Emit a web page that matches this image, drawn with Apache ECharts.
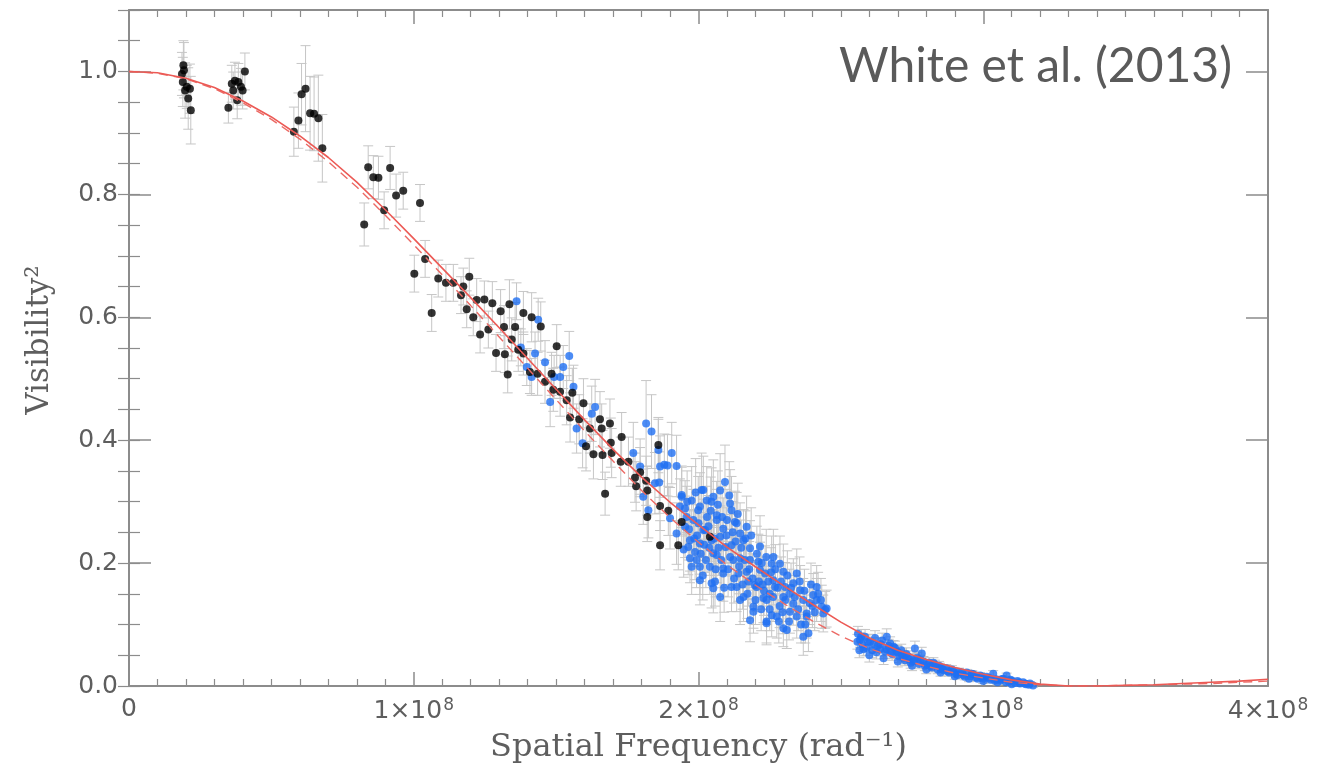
<!DOCTYPE html>
<html>
<head>
<meta charset="utf-8">
<script src="https://cdn.jsdelivr.net/npm/echarts@6/dist/echarts.min.js"></script>
<style>
html,body{margin:0;padding:0;background:#fff;}
#chart{width:1321px;height:782px;}
</style>
</head>
<body>
<div id="chart"></div>
<script>
// x values are in units of 1e8 rad^-1
const xTickLabels = ['0', '1×10^8', '2×10^8', '3×10^8', '4×10^8'];
const yTickLabels = ['0.0', '0.2', '0.4', '0.6', '0.8', '1.0'];

// model curves
const modelX = [0,0.1,0.2,0.3,0.4,0.5,0.6,0.7,0.8,0.9,1.0,1.1,1.2,1.3,1.4,1.5,1.6,1.7,1.8,1.9,2.0,2.1,2.2,2.3,2.4,2.5,2.6,2.7,2.8,2.9,3.0,3.1,3.2,3.3,3.4,3.5,3.6,3.7,3.8,3.9,4.0];
const modelSolid = [1.000,0.998,0.989,0.974,0.952,0.926,0.895,0.860,0.820,0.775,0.728,0.680,0.632,0.583,0.533,0.483,0.433,0.385,0.340,0.299,0.262,0.226,0.194,0.163,0.133,0.104,0.078,0.058,0.043,0.030,0.019,0.010,0.003,0.000,0.000,0.001,0.002,0.004,0.006,0.008,0.011];
const modelDashed = [1.000,0.997,0.988,0.972,0.949,0.922,0.890,0.853,0.812,0.766,0.718,0.669,0.619,0.568,0.517,0.466,0.415,0.366,0.318,0.274,0.234,0.197,0.164,0.134,0.106,0.081,0.061,0.045,0.032,0.021,0.013,0.006,0.002,0.000,0.000,0.001,0.002,0.003,0.004,0.006,0.008];

// black points: [x, V^2, error]
const blackPoints = [
[0.191,1.010,0.040],[0.193,1.002,0.045],[0.186,0.996,0.035],[0.189,0.983,0.040],[0.203,0.975,0.035],[0.214,0.972,0.040],[0.197,0.969,0.045],[0.208,0.956,0.050],[0.217,0.937,0.055],
[0.349,0.941,0.025],[0.361,0.980,0.030],[0.372,0.985,0.030],[0.384,0.983,0.030],[0.366,0.969,0.030],[0.380,0.953,0.030],[0.399,0.969,0.030],[0.407,1.000,0.030],[0.393,0.975,0.030],
[0.579,0.902,0.040],[0.595,0.920,0.045],[0.606,0.963,0.050],[0.620,0.972,0.070],[0.636,0.932,0.060],[0.650,0.931,0.060],[0.665,0.924,0.070],[0.679,0.875,0.055],
[0.826,0.751,0.035],[0.840,0.844,0.035],[0.858,0.828,0.035],[0.876,0.827,0.035],[0.917,0.843,0.035],[0.896,0.774,0.030],[0.938,0.798,0.035],[0.963,0.806,0.030],[1.022,0.786,0.030],[1.040,0.695,0.030],
[1.002,0.671,0.030],[1.063,0.607,0.030],[1.086,0.663,0.030],[1.113,0.656,0.030],[1.139,0.656,0.030],[1.195,0.666,0.030],[1.174,0.650,0.030],[1.166,0.636,0.030],[1.186,0.613,0.030],[1.221,0.628,0.035],
[1.248,0.629,0.030],[1.209,0.600,0.030],[1.233,0.572,0.030],[1.262,0.580,0.030],[1.276,0.623,0.035],[1.305,0.610,0.035],[1.336,0.621,0.040],[1.317,0.584,0.035],[1.356,0.584,0.040],[1.385,0.607,0.035],
[1.414,0.600,0.040],[1.446,0.585,0.040],[1.289,0.542,0.030],[1.320,0.540,0.030],[1.344,0.564,0.035],[1.367,0.547,0.035],[1.385,0.541,0.035],[1.330,0.507,0.030],[1.408,0.511,0.035],[1.502,0.553,0.035],
[1.435,0.508,0.035],[1.461,0.495,0.035],[1.484,0.508,0.035],[1.490,0.482,0.035],[1.514,0.479,0.040],[1.537,0.465,0.040],[1.557,0.477,0.040],[1.596,0.460,0.040],[1.549,0.437,0.040],[1.581,0.434,0.040],
[1.654,0.434,0.045],[1.689,0.427,0.040],[1.619,0.419,0.040],[1.660,0.419,0.040],[1.605,0.390,0.040],[1.631,0.377,0.040],[1.663,0.376,0.040],[1.692,0.396,0.040],[1.695,0.379,0.040],[1.730,0.405,0.040],
[1.727,0.365,0.040],[1.754,0.365,0.040],[1.859,0.392,0.045],[1.795,0.348,0.040],[1.777,0.339,0.040],[1.816,0.334,0.040],[1.781,0.325,0.040],[1.672,0.313,0.035],[1.820,0.318,0.040],[1.820,0.275,0.040],
[1.865,0.293,0.040],[1.894,0.285,0.040],[1.865,0.229,0.040],[1.929,0.229,0.040],[1.941,0.267,0.040],[2.040,0.243,0.040]
];

// blue points, sparse part among the black points
const blueSparse = [
[1.361,0.626,0.030],[1.437,0.596,0.035],[1.376,0.551,0.030],[1.397,0.519,0.030],[1.426,0.541,0.035],[1.414,0.503,0.030],[1.461,0.527,0.035],[1.479,0.462,0.040],[1.493,0.503,0.035],[1.514,0.503,0.035],
[1.525,0.519,0.035],[1.546,0.537,0.040],[1.561,0.487,0.035],[1.572,0.419,0.040],[1.593,0.395,0.040],[1.625,0.443,0.045],[1.637,0.454,0.045],[1.771,0.379,0.050],[1.795,0.357,0.045],[1.806,0.308,0.045],
[1.816,0.427,0.070],[1.835,0.414,0.060],[1.824,0.286,0.045],[1.847,0.330,0.050],[1.862,0.331,0.050],[1.859,0.384,0.050],[1.865,0.357,0.050],[1.880,0.360,0.050],[1.891,0.359,0.050],[1.900,0.273,0.050],
[1.906,0.379,0.050],[1.923,0.358,0.050],[1.923,0.248,0.050]
];

// blue points, dense cluster around 2e8
const blueCluster = [
[1.935,0.292,0.045],[1.941,0.308,0.050],[1.941,0.311,0.045],[1.953,0.259,0.050],[1.953,0.289,0.045],[1.958,0.275,0.050],[1.964,0.226,0.045],[1.970,0.208,0.040],[1.970,0.237,0.050],[1.976,0.194,0.045],
[1.976,0.302,0.055],[1.982,0.270,0.050],[1.988,0.218,0.045],[1.999,0.286,0.055],[2.005,0.172,0.040],[2.005,0.194,0.045],[2.005,0.232,0.050],[2.005,0.292,0.055],[2.011,0.319,0.060],[2.017,0.254,0.050],
[2.017,0.319,0.055],[2.023,0.254,0.045],[2.029,0.302,0.055],[2.040,0.194,0.045],[2.046,0.167,0.040],[2.046,0.237,0.050],[2.046,0.300,0.055],[2.052,0.159,0.040],[2.052,0.216,0.045],[2.052,0.308,0.060],
[2.064,0.213,0.045],[2.064,0.270,0.050],[2.064,0.278,0.055],[2.076,0.145,0.040],[2.076,0.243,0.050],[2.076,0.318,0.060],[2.087,0.183,0.045],[2.087,0.191,0.045],[2.087,0.256,0.050],[2.093,0.332,0.060],
[2.111,0.210,0.045],[2.111,0.297,0.055],[2.116,0.161,0.040],[2.116,0.229,0.050],[2.116,0.286,0.055],[2.128,0.267,0.050],[2.134,0.161,0.040],[2.134,0.265,0.050],[2.140,0.183,0.045],[2.146,0.140,0.040],
[2.146,0.208,0.045],[2.146,0.248,0.050],[2.158,0.145,0.040],[2.158,0.237,0.050],[2.169,0.186,0.045],[2.169,0.259,0.050],[2.181,0.107,0.035],[2.181,0.205,0.045],[2.181,0.224,0.045],[2.193,0.121,0.035],
[2.193,0.129,0.035],[2.198,0.164,0.040],[2.204,0.161,0.040],[2.210,0.202,0.045],[2.216,0.189,0.045],[2.216,0.227,0.050],[2.228,0.143,0.040],[2.234,0.183,0.045],[2.239,0.102,0.035],[2.239,0.105,0.035],
[2.239,0.140,0.040],[2.257,0.115,0.035],[2.257,0.199,0.045],[2.263,0.172,0.040],[2.263,0.210,0.045],[2.269,0.161,0.040],[2.275,0.113,0.035],[2.286,0.199,0.045],[2.298,0.094,0.030],[2.298,0.145,0.040],
[2.298,0.186,0.045],[2.304,0.161,0.040],[2.310,0.091,0.030],[2.321,0.121,0.035],[2.333,0.134,0.035],[2.333,0.167,0.040],[2.345,0.113,0.035],[2.345,0.183,0.040],[2.357,0.156,0.040],[2.368,0.080,0.030],
[2.368,0.140,0.035],[2.380,0.113,0.035],[2.380,0.118,0.035],[2.386,0.086,0.030],[2.403,0.148,0.035],[2.415,0.140,0.035],[2.415,0.161,0.035],[2.433,0.129,0.035],[2.445,0.124,0.030],[2.450,0.126,0.030],
[1.995,0.245,0.050],[2.030,0.275,0.050],[2.095,0.226,0.045],[2.120,0.250,0.050],[2.175,0.170,0.040],[2.225,0.165,0.040],[2.250,0.150,0.040],[2.285,0.130,0.035],[2.320,0.150,0.040],[2.360,0.100,0.030],
[2.400,0.130,0.035],[2.430,0.140,0.035],[2.100,0.270,0.050],[2.060,0.190,0.045],[1.990,0.315,0.055],
[1.948,0.222,0.045],[1.960,0.300,0.050],[1.967,0.255,0.050],[1.985,0.240,0.045],[1.993,0.205,0.045],[2.000,0.265,0.050],[2.008,0.215,0.045],[2.015,0.180,0.040],[2.020,0.230,0.045],[2.026,0.205,0.045],
[2.035,0.260,0.050],[2.038,0.225,0.045],[2.043,0.285,0.055],[2.055,0.240,0.045],[2.058,0.170,0.040],[2.068,0.295,0.055],[2.070,0.225,0.045],[2.080,0.205,0.045],[2.083,0.275,0.050],[2.090,0.160,0.040],
[2.098,0.245,0.045],[2.104,0.190,0.045],[2.108,0.310,0.055],[2.122,0.205,0.045],[2.125,0.175,0.040],[2.130,0.235,0.045],[2.138,0.280,0.050],[2.143,0.195,0.045],[2.150,0.225,0.045],[2.155,0.165,0.040],
[2.162,0.205,0.045],[2.165,0.240,0.045],[2.172,0.150,0.040],[2.178,0.190,0.045],[2.185,0.245,0.045],[2.190,0.175,0.040],[2.200,0.140,0.040],[2.205,0.215,0.045],[2.212,0.170,0.040],[2.220,0.125,0.035],
[2.222,0.200,0.045],[2.230,0.155,0.040],[2.238,0.210,0.045],[2.245,0.170,0.040],[2.250,0.125,0.035],[2.255,0.185,0.040],[2.262,0.145,0.040],[2.270,0.190,0.040],[2.278,0.160,0.040],[2.282,0.105,0.035],
[2.290,0.170,0.040],[2.295,0.120,0.035],[2.305,0.140,0.035],[2.312,0.180,0.040],[2.318,0.105,0.030],[2.325,0.160,0.040],[2.338,0.145,0.035],[2.350,0.125,0.035],[2.355,0.170,0.040],[2.372,0.155,0.035],
[2.375,0.100,0.030],[2.390,0.135,0.035],[2.395,0.165,0.035],[2.408,0.120,0.030],[2.420,0.150,0.035],[2.438,0.118,0.030]
];

// blue points, tail beyond 2.5e8
const blueTail = [
[2.560,0.085,0.012],[2.567,0.075,0.012],[2.575,0.068,0.012],[2.585,0.080,0.012],[2.590,0.062,0.012],[2.602,0.072,0.012],[2.610,0.058,0.012],[2.620,0.078,0.012],[2.630,0.066,0.012],[2.637,0.060,0.011],
[2.645,0.074,0.012],[2.655,0.056,0.011],[2.661,0.080,0.013],[2.668,0.065,0.011],[2.673,0.069,0.011],[2.680,0.052,0.010],[2.690,0.062,0.011],[2.696,0.056,0.010],[2.705,0.048,0.010],[2.712,0.058,0.010],
[2.720,0.046,0.010],[2.730,0.052,0.010],[2.740,0.043,0.009],[2.754,0.040,0.009],[2.760,0.061,0.012],[2.768,0.046,0.009],[2.775,0.036,0.008],[2.784,0.053,0.010],[2.790,0.040,0.008],[2.801,0.034,0.008],
[2.810,0.038,0.008],[2.820,0.030,0.007],[2.830,0.035,0.007],[2.840,0.027,0.007],[2.848,0.030,0.007],[2.860,0.026,0.006],[2.870,0.029,0.006],[2.880,0.022,0.006],[2.895,0.024,0.006],[2.905,0.020,0.006],
[2.915,0.023,0.006],[2.930,0.018,0.005],[2.942,0.022,0.005],[2.955,0.016,0.005],[2.965,0.019,0.005],[2.975,0.014,0.005],[2.989,0.017,0.005],[3.000,0.012,0.004],[3.012,0.015,0.004],[3.025,0.010,0.004],
[3.035,0.020,0.005],[3.045,0.011,0.004],[3.060,0.009,0.004],[3.070,0.012,0.004],[3.082,0.017,0.004],[3.090,0.007,0.003],[3.100,0.009,0.003],[3.112,0.005,0.003],[3.120,0.008,0.003],[3.129,0.004,0.003],
[3.140,0.006,0.003],[3.150,0.003,0.003],[3.164,0.004,0.003],[3.175,0.001,0.003],[2.565,0.058,0.012],[2.600,0.050,0.011],[2.650,0.045,0.010],[2.700,0.040,0.009],[2.750,0.033,0.008],[2.800,0.027,0.007],
[2.850,0.022,0.006],[2.900,0.016,0.005],[2.950,0.012,0.005],[3.000,0.008,0.004],[3.050,0.006,0.004],[3.100,0.003,0.003],
[2.558,0.072,0.012],[2.572,0.080,0.012],[2.580,0.060,0.011],[2.595,0.072,0.012],[2.615,0.068,0.011],[2.625,0.055,0.011],[2.640,0.068,0.011],[2.660,0.060,0.011],[2.675,0.055,0.010],[2.685,0.064,0.010],
[2.700,0.055,0.010],[2.715,0.050,0.010],[2.725,0.042,0.009],[2.735,0.048,0.009],[2.745,0.038,0.009],[2.760,0.044,0.009],[2.780,0.042,0.008],[2.795,0.033,0.008],[2.815,0.032,0.007],[2.825,0.038,0.008],
[2.845,0.033,0.007],[2.855,0.028,0.007],[2.875,0.024,0.006],[2.890,0.027,0.006],[2.910,0.018,0.005],[2.925,0.022,0.005],[2.935,0.015,0.005],[2.960,0.020,0.005],[2.980,0.012,0.004],[2.995,0.015,0.004],
[3.020,0.013,0.004],[3.040,0.009,0.004],[3.065,0.011,0.004],[3.080,0.006,0.003],[3.095,0.010,0.003],[3.125,0.006,0.003],[3.145,0.004,0.003],[3.160,0.002,0.003]
];

const chart = echarts.init(document.getElementById('chart'), null, {renderer: 'canvas'});

const axisColor = '#8c8c8c';
const labelColor = '#5e5e5e';
const tickFont = 'DejaVu Sans';
const nameFont = 'DejaVu Serif';

function errRender(params, api) {
  const x = api.value(0), y = api.value(1), e = api.value(2);
  const top = api.coord([x, y + e]);
  const bot = api.coord([x, y - e]);
  const w = 5;
  const st = {stroke: '#c6c6c6', lineWidth: 1};
  return {
    type: 'group',
    children: [
      {type: 'line', shape: {x1: top[0], y1: top[1], x2: bot[0], y2: bot[1]}, style: st},
      {type: 'line', shape: {x1: top[0] - w, y1: top[1], x2: top[0] + w, y2: top[1]}, style: st},
      {type: 'line', shape: {x1: bot[0] - w, y1: bot[1], x2: bot[0] + w, y2: bot[1]}, style: st}
    ]
  };
}

const allBlue = blueSparse.concat(blueCluster, blueTail);

function xLabel(v) {
  const s = xTickLabels[Math.round(v)] || '';
  const parts = s.split('^');
  return parts.length > 1 ? parts[0] + '{sup|' + parts[1] + '}' : s;
}

function xAxisBase(pos, showLabel) {
  return {
    type: 'value', position: pos, min: 0, max: 4, interval: 1, gridIndex: 0,
    axisLine: {show: true, onZero: false, lineStyle: {color: axisColor, width: 2}},
    axisTick: {show: true, inside: true, length: 14, lineStyle: {color: axisColor, width: 1.5}},
    minorTick: {show: true, splitNumber: 10, length: 7, lineStyle: {color: axisColor, width: 1.2}},
    splitLine: {show: false}, minorSplitLine: {show: false},
    axisLabel: {
      show: showLabel, margin: 11, color: labelColor, fontFamily: tickFont, fontSize: 25,
      formatter: xLabel,
      rich: {sup: {fontSize: 17, fontFamily: tickFont, color: labelColor, verticalAlign: 'top', padding: [0, 0, 12, 1]}}
    }
  };
}
function yAxisMajor(pos, showLabel) {
  return {
    type: 'value', position: pos, min: 0, max: 1.1, interval: 0.2, gridIndex: 0,
    axisLine: {show: true, onZero: false, lineStyle: {color: axisColor, width: 2}},
    axisTick: {show: true, inside: true, length: 22, lineStyle: {color: axisColor, width: 1.5}},
    splitLine: {show: false},
    axisLabel: {
      show: showLabel, margin: 11, color: labelColor, fontFamily: tickFont, fontSize: 25,
      formatter: v => {
        const k = Math.round(v / 0.2);
        return Math.abs(v - k * 0.2) < 1e-6 ? (yTickLabels[k] || '') : '';
      }
    }
  };
}
function yAxisMinor(pos) {
  return {
    type: 'value', position: pos, min: 0, max: 1.1, interval: 0.05, gridIndex: 0, offset: 0,
    axisLine: {show: false},
    axisTick: {show: true, inside: true, length: 11, lineStyle: {color: axisColor, width: 1.2}},
    splitLine: {show: false},
    axisLabel: {show: false}
  };
}

const xb = xAxisBase('bottom', true);
xb.name = 'Spatial Frequency (rad⁻¹)';
xb.nameLocation = 'middle';
xb.nameGap = 46;
xb.nameTextStyle = {fontFamily: nameFont, fontSize: 32, color: labelColor};

const yl = yAxisMajor('left', true);
yl.name = 'Visibility²';
yl.nameLocation = 'middle';
yl.nameGap = 74;
yl.nameTextStyle = {fontFamily: nameFont, fontSize: 31, color: labelColor, padding: [0, 0, 0, 16]};

const option = {
  backgroundColor: '#ffffff',
  animation: false,
  title: {
    text: 'White et al. (2013)',
    right: 84, top: 38,
    textStyle: {fontFamily: 'Lato', fontWeight: 'normal', fontSize: 48, color: '#5a5a5a'}
  },
  grid: {left: 129, right: 53, top: 10, bottom: 96, containLabel: false},
  xAxis: [xb, xAxisBase('top', false)],
  yAxis: [yl, yAxisMinor('left'), yAxisMajor('right', false), yAxisMinor('right')],
  series: [
    {
      type: 'custom', name: 'err', xAxisIndex: 0, yAxisIndex: 0, z: 1,
      renderItem: errRender, encode: {x: 0, y: 1},
      data: blackPoints.concat(allBlue), silent: true
    },
    {
      type: 'scatter', name: 'black', xAxisIndex: 0, yAxisIndex: 0, z: 3,
      symbol: 'circle', symbolSize: 8,
      itemStyle: {color: '#000000'},
      data: blackPoints.map(p => [p[0], p[1]])
    },
    {
      type: 'scatter', name: 'blue', xAxisIndex: 0, yAxisIndex: 0, z: 2,
      symbol: 'circle', symbolSize: 8,
      itemStyle: {color: '#1f6ff2'},
      data: allBlue.map(p => [p[0], p[1]])
    },
    {
      type: 'line', name: 'model', xAxisIndex: 0, yAxisIndex: 0, z: 5,
      showSymbol: false, smooth: false,
      lineStyle: {color: '#ec5a55', width: 1.6},
      data: modelX.map((x, i) => [x, modelSolid[i]])
    },
    {
      type: 'line', name: 'model2', xAxisIndex: 0, yAxisIndex: 0, z: 4,
      showSymbol: false, smooth: false,
      lineStyle: {color: '#ec6a65', width: 1.4, type: [9, 6]},
      data: modelX.map((x, i) => [x, modelDashed[i]])
    }
  ]
};
chart.setOption(option);
</script>
</body>
</html>
